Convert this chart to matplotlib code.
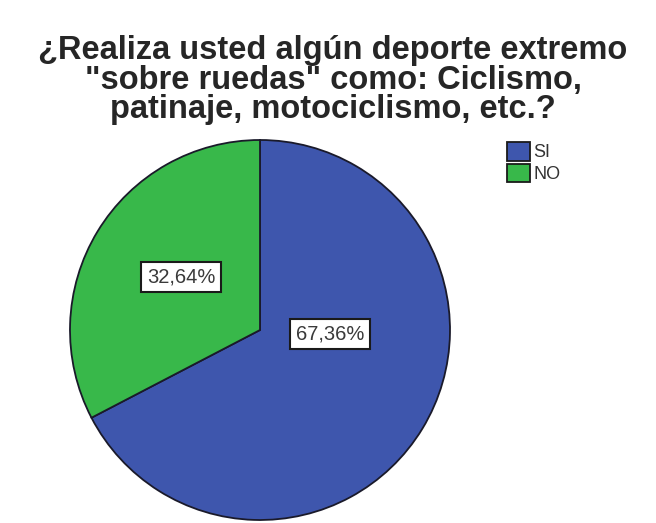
import matplotlib.pyplot as plt
from matplotlib.patches import Patch

categories = ['SI', 'NO']
values = [67.36, 32.64]
colors = ['#3E56AD', '#38B84A']

plt.rcParams['font.family'] = ['Liberation Sans', 'DejaVu Sans']

fig = plt.figure(figsize=(6.56, 5.23), dpi=100)
W, H = 656, 523

# pie: center ~ (260, 330) px, radius ~ 190 px
cx, cy, r = 260, 330, 190
ax = fig.add_axes([(cx - r) / W, 1 - (cy + r) / H, 2 * r / W, 2 * r / H])
wedges, _ = ax.pie(values, colors=colors, startangle=90, counterclock=False,
                   wedgeprops=dict(edgecolor='#1a1a2a', linewidth=1.3))
ax.set_xlim(-1, 1)
ax.set_ylim(-1, 1)
ax.set_aspect('equal')

label_pos = [(0.37, -0.02), (-0.415, 0.28)]
for v, (x, y) in zip(values, label_pos):
    ax.text(x, y, f"{v:.2f}%".replace('.', ','), ha='center', va='center',
            fontsize=14.5, color='#3a3a3a',
            bbox=dict(boxstyle='square,pad=0.28', fc='white', ec='#1a1a1a', lw=1.5))

fig.text(333 / W, 1 - 35 / H,
         '¿Realiza usted algún deporte extremo\n"sobre ruedas" como: Ciclismo,\npatinaje, motociclismo, etc.?',
         ha='center', va='top', fontsize=23.5, fontweight='bold', color='#262626',
         linespacing=0.94)

handles = [Patch(facecolor=c, edgecolor='#1a1a1a', lw=1.3) for c in colors]
fig.legend(handles, categories, loc='upper left', bbox_to_anchor=(507 / W, 1 - 142 / H),
           frameon=False, fontsize=13, handlelength=1.25, handleheight=1.2,
           handletextpad=0.2, labelspacing=0.12, borderaxespad=0, borderpad=0,
           labelcolor='#333333')

fig.savefig('out.png', dpi=100)
